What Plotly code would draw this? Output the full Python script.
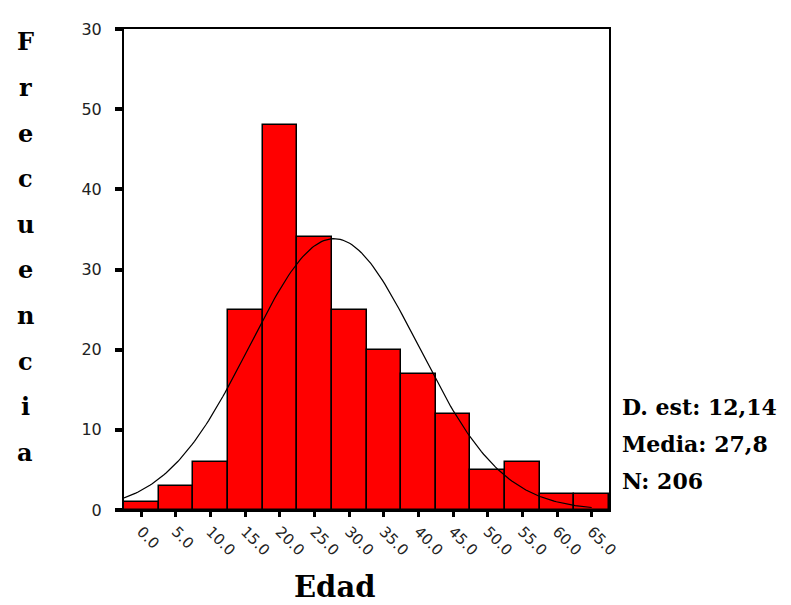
import numpy as np
import plotly.graph_objects as go

# Data
edad = [0, 5, 10, 15, 20, 25, 30, 35, 40, 45, 50, 55, 60, 65]
frecuencia = [1, 3, 6, 25, 48, 34, 25, 20, 17, 12, 5, 6, 2, 2]
x_ticktext = ["0.0", "5.0", "10.0", "15.0", "20.0", "25.0", "30.0", "35.0",
              "40.0", "45.0", "50.0", "55.0", "60.0", "65.0"]
y_tickvals = [0, 10, 20, 30, 40, 50, 60]
y_ticktext = ["0", "10", "20", "30", "40", "50", "30"]
media = 27.8
d_est = 12.14
n_total = 206
bin_width = 5

# Normal curve fitted with the displayed statistics
xc = np.linspace(-2.5, 65, 200)
yc = n_total * bin_width / (d_est * np.sqrt(2 * np.pi)) * np.exp(-0.5 * ((xc - media) / d_est) ** 2)

fig = go.Figure()
fig.add_trace(go.Bar(x=edad, y=frecuencia, width=bin_width,
                     marker=dict(color="#FF0000", line=dict(color="black", width=1.5)),
                     showlegend=False))
fig.add_trace(go.Scatter(x=xc, y=yc, mode="lines",
                         line=dict(color="black", width=1.2), showlegend=False))

serif = "DejaVu Serif"
OFF = 8  # page body offset
L, T, PW, PH = 124 - OFF, 22 - OFF, 485, 488
W, H = 791 - OFF, 605 - OFF
fig.update_layout(
    width=W, height=H,
    margin=dict(l=L, r=W - L - PW, t=T, b=H - T - PH),
    paper_bgcolor="white", plot_bgcolor="white",
    bargap=0,
    xaxis=dict(range=[-2.5, 67.5], tickvals=edad, ticktext=x_ticktext,
               tickangle=45, ticks="outside", ticklen=5, tickwidth=3,
               tickcolor="black", showgrid=False, zeroline=False,
               showline=True, linecolor="black", linewidth=2, mirror=True,
               tickfont=dict(family="DejaVu Sans", size=15, color="#222")),
    yaxis=dict(range=[0, 60], tickvals=y_tickvals, ticktext=y_ticktext,
               ticks="outside", ticklen=7, tickwidth=4, tickcolor="black",
               ticklabelstandoff=10,
               showgrid=False, zeroline=False,
               showline=True, linecolor="black", linewidth=2, mirror=True,
               tickfont=dict(family="DejaVu Sans", size=16, color="#222")),
)

def px(xp):
    return (xp - 124) / PW

def py(yp):
    return (510 - yp) / PH

# Axis title X
fig.add_annotation(text="<b>Edad</b>", xref="paper", yref="paper",
                   x=px(334), y=py(588), xanchor="center", yanchor="middle",
                   showarrow=False, font=dict(family=serif, size=29, color="black"))

# Vertical stacked Y title
letters = list("Frecuencia")
for i, ch in enumerate(letters):
    ypix = 35 + i * 46.3
    fig.add_annotation(text="<b>%s</b>" % ch, xref="paper", yref="paper",
                       x=px(25), y=py(ypix),
                       xanchor="center", yanchor="middle", showarrow=False,
                       font=dict(family=serif, size=24, color="black"))

# Stats text
stats = ["D. est: 12,14", "Media: 27,8", "N: 206"]
for i, s in enumerate(stats):
    ypix = 405 + i * 38
    fig.add_annotation(text="<b>%s</b>" % s, xref="paper", yref="paper",
                       x=px(620), y=py(ypix),
                       xanchor="left", yanchor="middle", showarrow=False,
                       font=dict(family=serif, size=22, color="black"))

fig.write_html("out.html")
